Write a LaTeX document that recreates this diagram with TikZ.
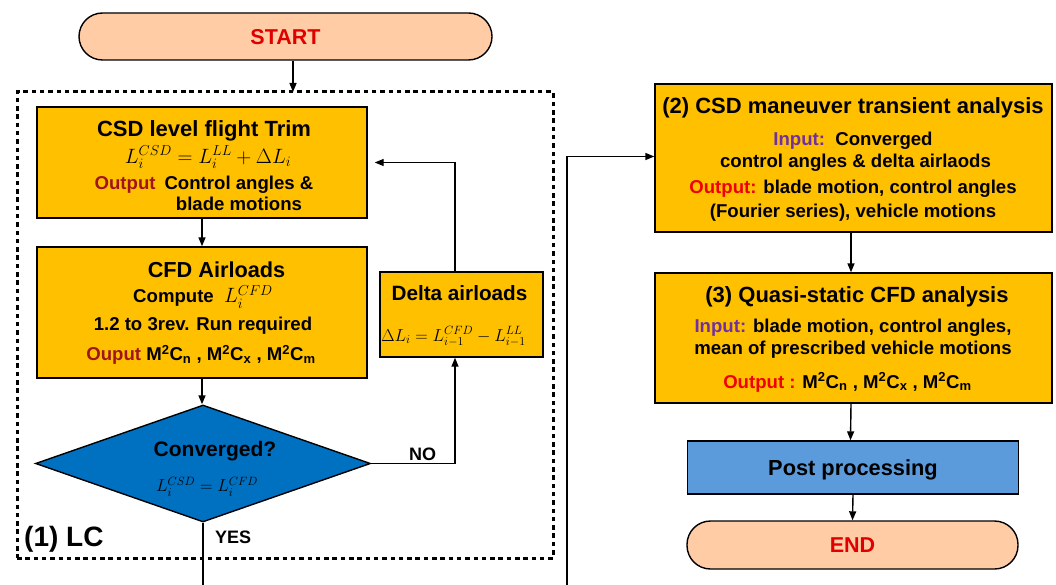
\documentclass[tikz,border=0pt]{standalone}
\usepackage{fontspec}
\setmainfont{Liberation Sans}
\usetikzlibrary{shapes.geometric,arrows.meta}
\definecolor{boxor}{HTML}{FFC000}
\definecolor{termfill}{HTML}{FFCCA6}
\definecolor{diafill}{HTML}{0070C0}
\definecolor{postfill}{HTML}{5B9BDB}
\definecolor{termred}{HTML}{E00000}
\definecolor{outdark}{HTML}{A0141E}
\definecolor{outred}{HTML}{F00000}
\definecolor{inpurple}{HTML}{7030A0}
\newcommand{\MC}[1]{M\textsuperscript{2}C\textsubscript{#1}}
\newcommand{\ttl}{\fontsize{22}{22}\selectfont}
\begin{document}
\begin{tikzpicture}[x=1pt,y=-1pt,
  base/.style={draw=black, line width=1.4pt, inner sep=0pt, align=center,
    font=\bfseries\fontsize{18.6}{22}\selectfont},
  orbox/.style={base, fill=boxor},
  txt/.style={inner sep=0pt, align=center, anchor=north,
    font=\bfseries\fontsize{18.6}{22}\selectfont},
  term/.style={base, fill=termfill, rounded corners=23.5pt, minimum width=413pt,
    minimum height=47pt, text=termred, text depth=0pt,
    font=\bfseries\fontsize{21.5}{24}\selectfont},
  arr/.style={-{Triangle[length=9pt,width=7pt]}, line width=1.4pt},
  line/.style={line width=1.4pt},
  lcbox/.style={draw=black, line width=3pt, dash pattern=on 4.5pt off 3.8pt,
    minimum width=536pt, minimum height=466pt, inner sep=0pt},
  lbl/.style={font=\bfseries\fontsize{18}{20}\selectfont, inner sep=0pt, anchor=base west}
]
\useasboundingbox (0,0) rectangle (1056,585);

% loosely coupled frame
\node[lcbox] (lc) at (285,325) {};
\coordinate (lctop) at (293,92);
\node[inner sep=0pt, anchor=base west, font=\bfseries\fontsize{28}{30}\selectfont] (lclbl) at (24,546) {(1) LC};

% terminals
\node[term] (start) at (285.5,36.5) {START};
\node[term, minimum width=331pt, minimum height=48pt] (end) at (852.5,545) {END};

% loop boxes
\node[orbox, minimum width=330pt, minimum height=111pt] (trim) at (202,162.5) {};
\node[txt] (trimtxt) at (204,120)
 {{\ttl CSD level flight Trim}\\[4pt]
  \hspace*{8pt}{\fontsize{19.5}{22}\selectfont $L_i^{CSD}=L_i^{LL}+\Delta L_i$}\\[4pt]
  {\color{outdark}Output}\hspace{9pt}\begin{tabular}[t]{@{}c@{}}Control angles \&\\[-1pt] blade motions\end{tabular}};

\node[orbox, minimum width=330pt, minimum height=131pt] (cfd) at (202,312.5) {};
\node[txt] (cfdtxt) at (203,262)
 {\hspace*{27pt}{\fontsize{21.7}{22}\selectfont CFD Airloads}\\[3pt]
  Compute\ \ {\fontsize{20}{22}\selectfont $L_i^{CFD}$}\\[6pt]
  1.2 to 3rev. Run required\\[8pt]
  {\color{outdark}Ouput} \MC{n} , \MC{x} , \MC{m}\hspace*{4pt}};

\node[orbox, minimum width=163pt, minimum height=85pt] (delta) at (461.5,314.5) {};
\node[txt] (deltatxt) at (459.5,285)
 {{\fontsize{20.7}{22}\selectfont Delta airloads}\\[19pt]
  {\fontsize{16.8}{22}\selectfont $\Delta L_i=L_{i-1}^{CFD}-L_{i-1}^{LL}$}\hspace*{12pt}};

\node[base, diamond, aspect=2.86, fill=diafill, minimum width=335pt, minimum height=117pt] (conv) at (203,463.5) {};
\node[txt] (convtxt) at (215,441.5)
 {{\fontsize{21}{22}\selectfont Converged?}\\[13pt]
  {\fontsize{17}{22}\selectfont $L_i^{CSD}=L_i^{CFD}$}\hspace*{16pt}};

% right column
\node[orbox, minimum width=397pt, minimum height=148pt] (man) at (853.5,158) {};
\node[txt] (mantxt) at (853,97)
 {{\ttl (2) CSD maneuver transient analysis}\\[10pt]
  {\color{inpurple}Input:}\ \ Converged\\[0pt]
  \hspace*{5pt}control angles \& delta airlaods\\[4pt]
  {\color{outred}Output:} blade motion, control angles\\[2pt]
  (Fourier series), vehicle motions};

\node[orbox, minimum width=397pt, minimum height=130pt] (qs) at (853.5,338) {};
\node[txt] (qstxt) at (853,286)
 {\hspace*{8pt}{\ttl (3) Quasi-static CFD analysis}\\[8pt]
  {\color{inpurple}Input:} blade motion, control angles,\\[0pt]
  mean of prescribed vehicle motions\\[12pt]
  {\color{outred}Output :} \MC{n} , \MC{x} , \MC{m}\hspace*{11pt}};

\node[base, fill=postfill, minimum width=331pt, minimum height=53pt, text depth=0pt,
  font=\bfseries\fontsize{21.8}{24}\selectfont] (post) at (853,467.5) {Post processing};

% free ends
\coordinate (yesend) at (203,585);
\coordinate (loopin) at (567,585);

% connectors
\draw[arr] (start.south -| lctop) -- (lctop);
\draw[arr] (trim.south) -- (cfd.north);
\draw[arr] (cfd.south) -- (cfd.south |- conv.north);
\draw[arr] (conv.east) -| ([xshift=-6.5pt]delta.south);
\draw[arr] ([xshift=-6.5pt]delta.north) |- ([xshift=7pt]trim.east);
\draw[line] (conv.south) -- (conv.south |- yesend);
\draw[arr] (loopin) |- ([yshift=1.5pt]man.west);
\draw[arr] ([xshift=-2.5pt]man.south) -- ([xshift=-2.5pt]qs.north);
\draw[arr] ([xshift=-2.5pt]qs.south) -- ([xshift=-2.5pt]post.north);
\draw[arr] (post.south) -- (end.north);

\node[lbl] (nolbl) at (409,460) {NO};
\node[lbl] (yeslbl) at (215,543) {YES};
\end{tikzpicture}
\end{document}
